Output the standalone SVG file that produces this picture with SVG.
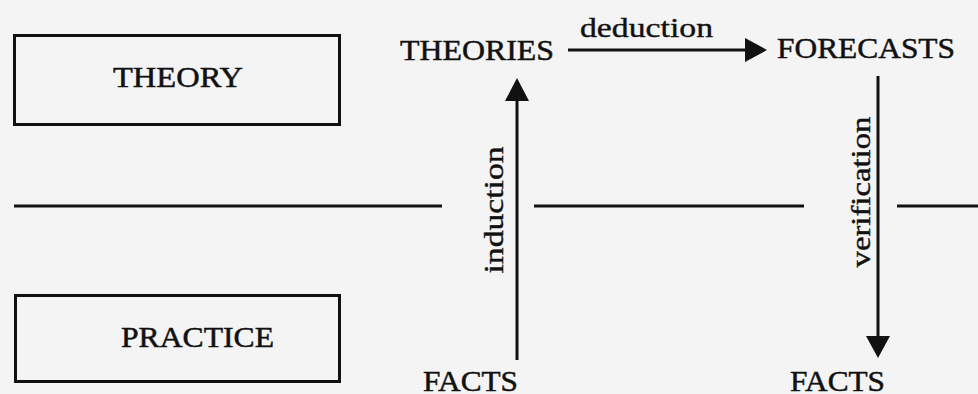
<svg xmlns="http://www.w3.org/2000/svg" width="978" height="394" viewBox="0 0 978 394">
  <defs>
    <style>
      .box { fill: none; stroke: #111; stroke-width: 3; }
      .line { stroke: #111; stroke-width: 3; fill: none; }
      .head { fill: #111; stroke: none; }
      .caps { font-family: "Liberation Serif", "Times New Roman", serif; font-size: 30px; fill: #111; stroke: #111; stroke-width: 0.5; }
      .lower { font-family: "Liberation Serif", "Times New Roman", serif; font-size: 28px; fill: #111; stroke: #111; stroke-width: 0.4; }
    </style>
  </defs>
  <rect x="0" y="0" width="978" height="394" fill="#f4f4f4"/>

  <g id="theory">
    <rect class="box" x="14.5" y="35.5" width="325" height="89"/>
    <text class="caps" x="113" y="87" textLength="130" lengthAdjust="spacingAndGlyphs">THEORY</text>
  </g>

  <g id="practice">
    <rect class="box" x="15.5" y="295.5" width="324" height="86"/>
    <text class="caps" x="121" y="347" textLength="153" lengthAdjust="spacingAndGlyphs">PRACTICE</text>
  </g>

  <g id="theories">
    <text class="caps" x="400" y="60" textLength="154" lengthAdjust="spacingAndGlyphs">THEORIES</text>
  </g>

  <g id="forecasts">
    <text class="caps" x="777" y="58" textLength="178" lengthAdjust="spacingAndGlyphs">FORECASTS</text>
  </g>

  <g id="facts-left">
    <text class="caps" x="423" y="391" textLength="95" lengthAdjust="spacingAndGlyphs">FACTS</text>
  </g>

  <g id="facts-right">
    <text class="caps" x="790" y="391" textLength="95" lengthAdjust="spacingAndGlyphs">FACTS</text>
  </g>

  <g id="connectors">
    <!-- deduction -->
    <line class="line" x1="568" y1="50" x2="748" y2="50"/>
    <polygon class="head" points="767,50 745,38 745,62"/>
    <text class="lower" x="580" y="37" textLength="133" lengthAdjust="spacingAndGlyphs">deduction</text>

    <!-- induction -->
    <line class="line" x1="517" y1="98" x2="517" y2="360"/>
    <polygon class="head" points="517,78 505,101 529,101"/>
    <text class="lower" transform="translate(503,210) rotate(-90)" x="-63.5" y="0" textLength="127" lengthAdjust="spacingAndGlyphs">induction</text>

    <!-- verification -->
    <line class="line" x1="878" y1="76" x2="878" y2="340"/>
    <polygon class="head" points="878,358 866,336 890,336"/>
    <text class="lower" transform="translate(870,192) rotate(-90)" x="-75.5" y="0" textLength="151" lengthAdjust="spacingAndGlyphs">verification</text>

    <!-- dividing line -->
    <line class="line" x1="14" y1="206" x2="442" y2="206"/>
    <line class="line" x1="534" y1="206" x2="804" y2="206"/>
    <line class="line" x1="897" y1="206" x2="978" y2="206"/>
  </g>
</svg>
